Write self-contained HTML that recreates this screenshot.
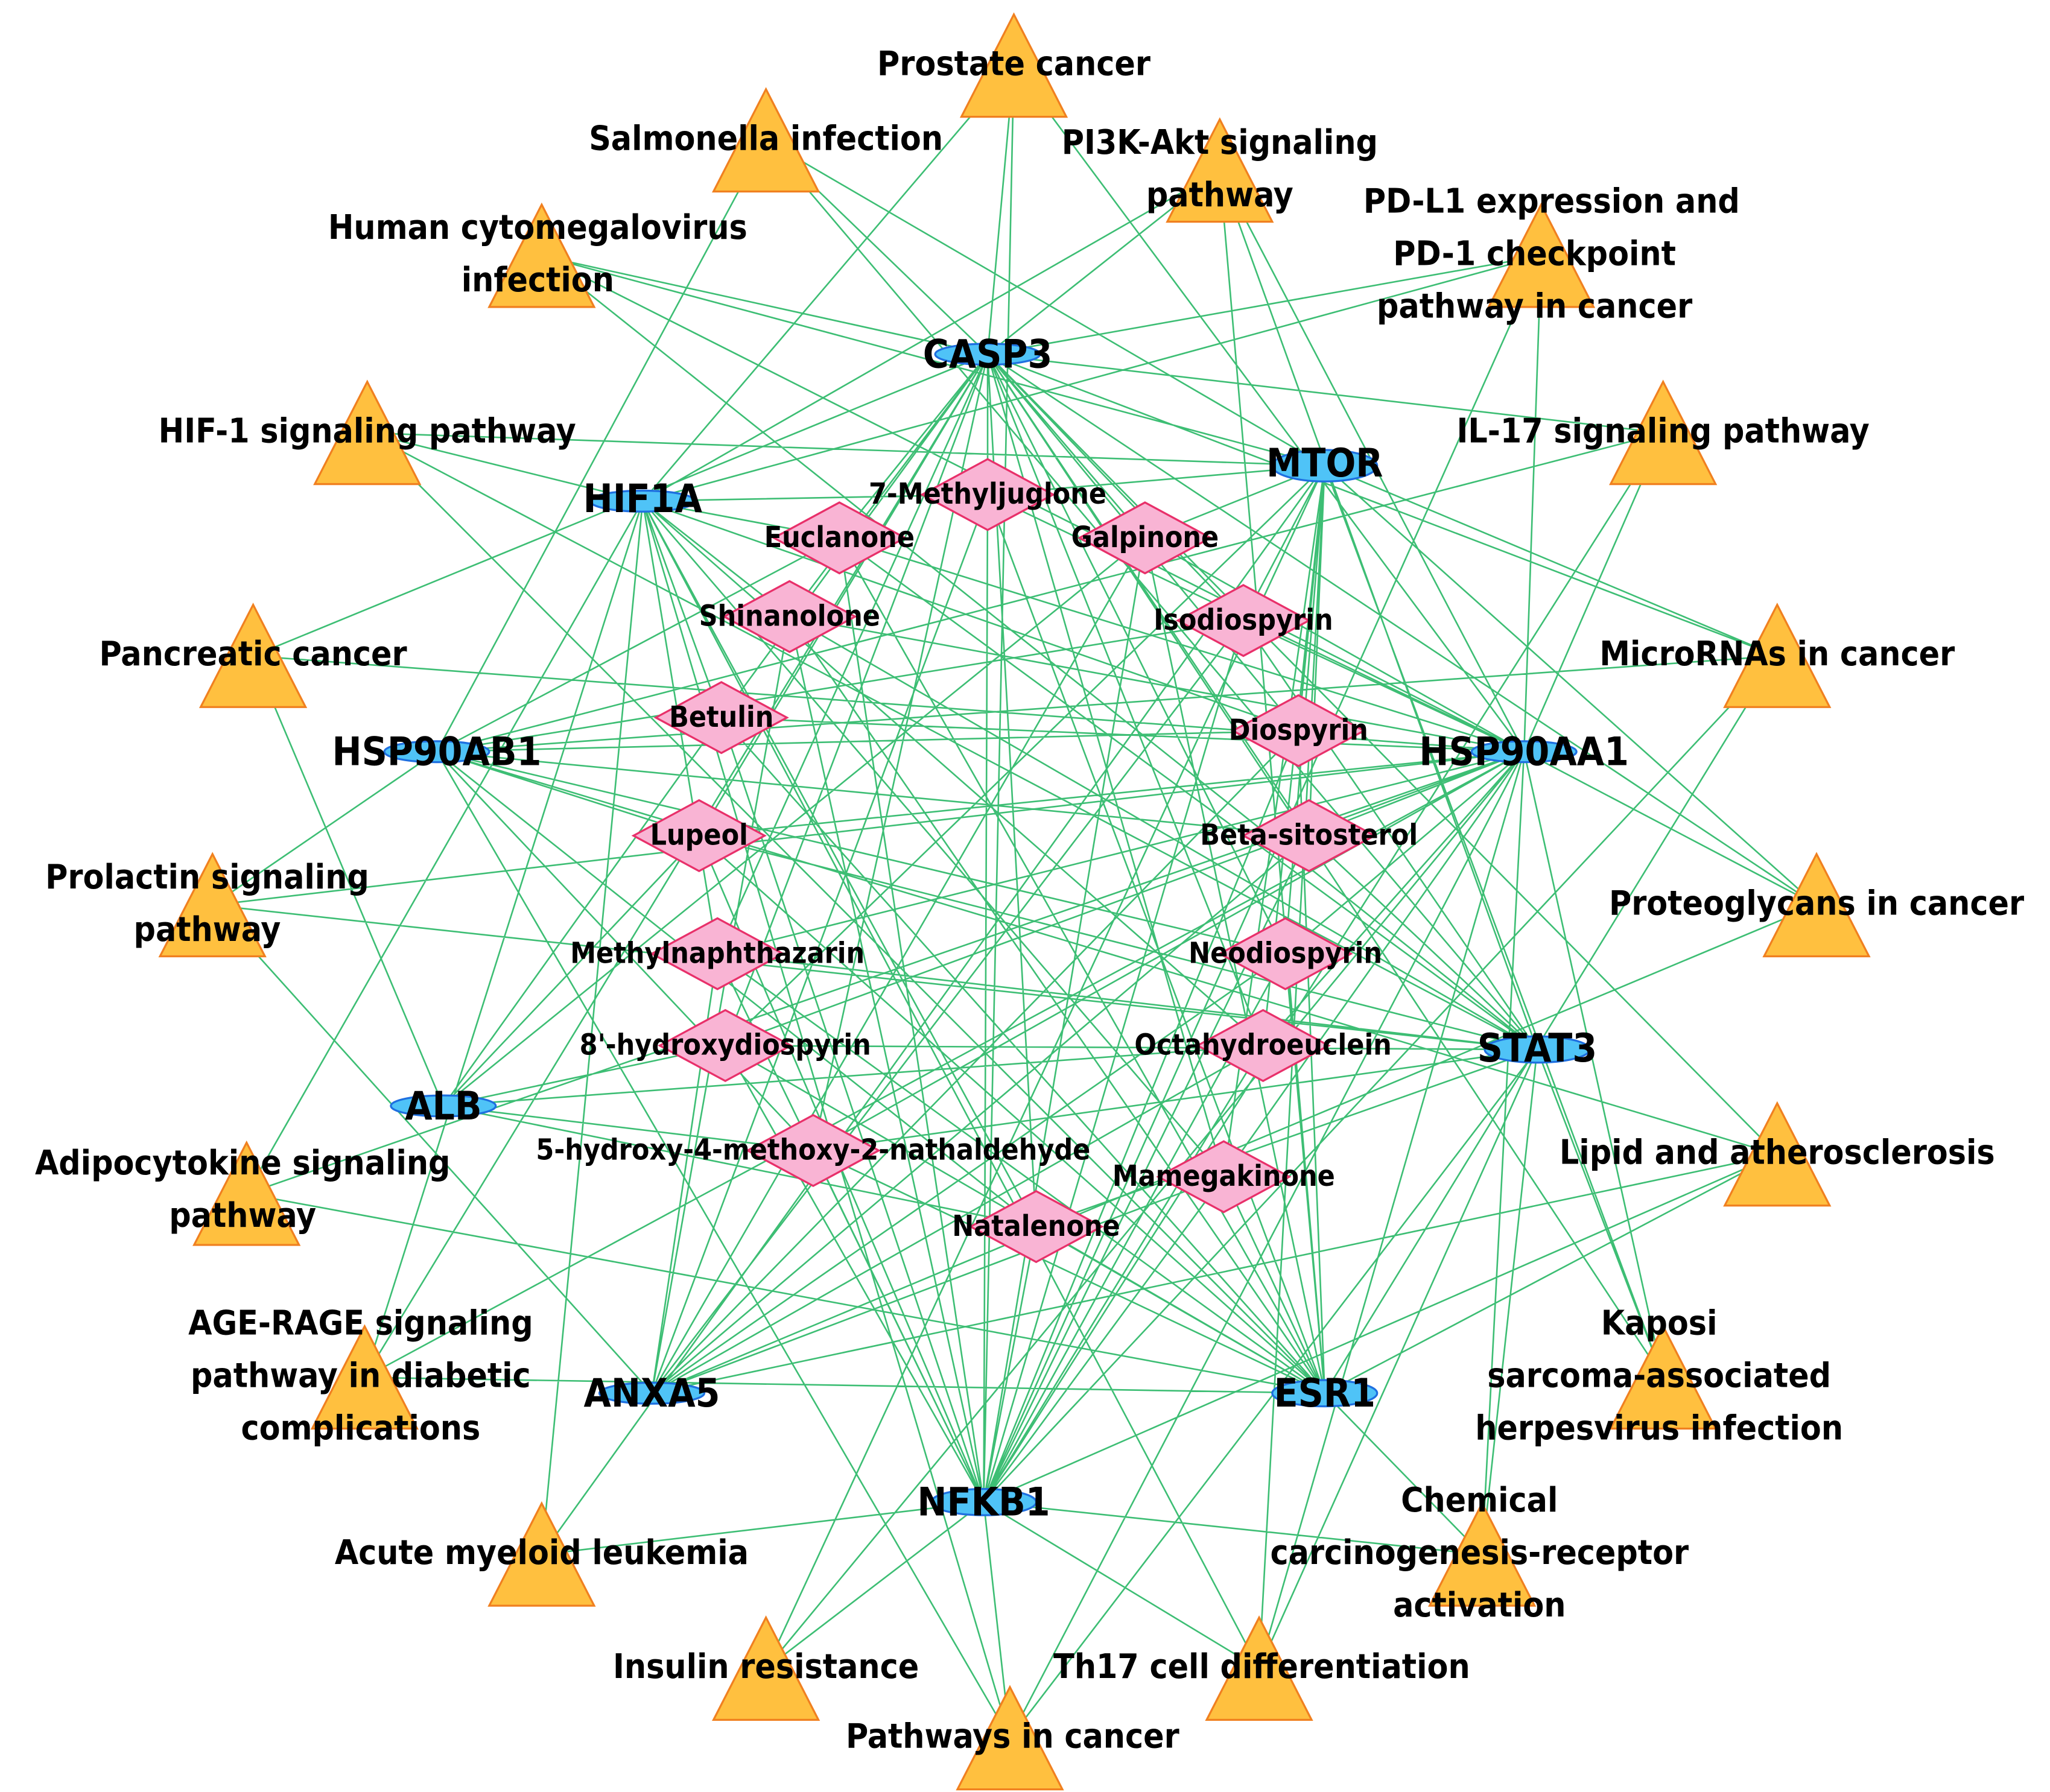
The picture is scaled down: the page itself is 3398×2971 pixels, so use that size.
<!DOCTYPE html>
<html><head><meta charset="utf-8"><style>
html,body{margin:0;padding:0;background:#fff;}
svg{display:block;}
text{font-family:"DejaVu Sans","Liberation Sans",sans-serif;font-weight:bold;font-stretch:condensed;fill:#000;text-anchor:middle;dominant-baseline:middle;}
.p{font-size:26px;}
.t{font-size:30px;}
.c{font-size:22px;}
</style></head><body>
<svg width="3398" height="2971" viewBox="0 0 1563 1366" preserveAspectRatio="none" xmlns="http://www.w3.org/2000/svg">
<g stroke="#3dbe74" stroke-width="1.2" fill="none">
<path d="
M773 50L753 270M773 50L1162 573M773 50L490 382M773 50L750 1145
M584 107L1010 355M584 107L753 270M584 107L1172 800M584 107L333 573
M930 130L753 270M930 130L1162 573M930 130L1172 800M930 130L490 382M930 130L1010 1062
M1175 195L490 382M1175 195L1162 573M1175 195L753 270M1175 195L750 1145
M413 195L1010 355M413 195L753 270M413 195L1172 800M413 195L1162 573
M280 330L1010 355M280 330L1172 800M280 330L1010 1062M280 330L490 382
M1268 330L753 270M1268 330L1162 573M1268 330L333 573M1268 330L750 1145
M193 500L753 270M193 500L1162 573M193 500L338 843
M1355 500L753 270M1355 500L1010 355M1355 500L333 573M1355 500L1010 1062M1355 500L750 1145
M162 690L1162 573M162 690L1172 800M162 690L497 1062M162 690L333 573
M1385 690L1010 355M1385 690L1162 573M1385 690L753 270M1385 690L497 1062
M188 910L490 382M188 910L1162 573M188 910L1010 1062
M1355 880L333 573M1355 880L753 270M1355 880L1010 1062M1355 880L750 1145M1355 880L497 1062
M278 1050L753 270M278 1050L1162 573M278 1050L490 382M278 1050L1010 1062
M1268 1050L1172 800M1268 1050L753 270M1268 1050L1010 355M1268 1050L1162 573
M413 1185L750 1145M413 1185L490 382M413 1185L1010 355
M1130 1185L1172 800M1130 1185L1010 1062M1130 1185L750 1145M1130 1185L1162 573
M584 1272L750 1145M584 1272L1010 355M584 1272L1162 573
M960 1272L750 1145M960 1272L1172 800M960 1272L1162 573M960 1272L1010 355M960 1272L490 382
M770 1325L750 1145M770 1325L1172 800M770 1325L333 573M770 1325L490 382M770 1325L1162 573
M753 377L753 270M753 377L1010 355M753 377L490 382M753 377L1162 573M753 377L750 1145M753 377L1010 1062M753 377L497 1062
M640 410L753 270M640 410L490 382M640 410L1162 573M640 410L1172 800M640 410L750 1145M640 410L1010 1062M640 410L333 573
M873 410L753 270M873 410L1010 355M873 410L1162 573M873 410L750 1145M873 410L1010 1062M873 410L497 1062M873 410L338 843
M602 470L753 270M602 470L490 382M602 470L1162 573M602 470L1172 800M602 470L750 1145M602 470L1010 1062M602 470L497 1062
M948 473L753 270M948 473L1010 355M948 473L333 573M948 473L1162 573M948 473L750 1145M948 473L497 1062M948 473L1172 800
M550 547L753 270M550 547L490 382M550 547L1162 573M550 547L750 1145M550 547L1010 1062M550 547L338 843
M990 557L753 270M990 557L1010 355M990 557L490 382M990 557L333 573M990 557L750 1145M990 557L497 1062M990 557L1010 1062
M533 637L753 270M533 637L1162 573M533 637L333 573M533 637L338 843M533 637L750 1145M533 637L1010 1062M533 637L1172 800
M998 637L753 270M998 637L1010 355M998 637L1162 573M998 637L333 573M998 637L750 1145M998 637L497 1062M998 637L1172 800
M547 727L753 270M547 727L490 382M547 727L1162 573M547 727L1172 800M547 727L750 1145M547 727L497 1062M547 727L1010 1062
M980 727L753 270M980 727L1010 355M980 727L333 573M980 727L1162 573M980 727L750 1145M980 727L497 1062M980 727L1010 1062
M553 797L753 270M553 797L1162 573M553 797L1172 800M553 797L338 843M553 797L750 1145M553 797L1010 1062M553 797L1010 355
M963 797L753 270M963 797L1010 355M963 797L490 382M963 797L1162 573M963 797L750 1145M963 797L497 1062M963 797L338 843
M620 877L753 270M620 877L333 573M620 877L338 843M620 877L1162 573M620 877L750 1145M620 877L1010 1062M620 877L1172 800
M933 897L753 270M933 897L1010 355M933 897L490 382M933 897L1162 573M933 897L750 1145M933 897L497 1062M933 897L1010 1062
M790 935L753 270M790 935L490 382M790 935L333 573M790 935L338 843M790 935L750 1145M790 935L1010 1062M790 935L1172 800
"/>
</g>
<g fill="#ffc03f" stroke="#f08020" stroke-width="1.5">
<polygon points="773,11 813,89 733,89"/>
<polygon points="584,68 624,146 544,146"/>
<polygon points="930,91 970,169 890,169"/>
<polygon points="1175,156 1215,234 1135,234"/>
<polygon points="413,156 453,234 373,234"/>
<polygon points="280,291 320,369 240,369"/>
<polygon points="1268,291 1308,369 1228,369"/>
<polygon points="193,461 233,539 153,539"/>
<polygon points="1355,461 1395,539 1315,539"/>
<polygon points="162,651 202,729 122,729"/>
<polygon points="1385,651 1425,729 1345,729"/>
<polygon points="188,871 228,949 148,949"/>
<polygon points="1355,841 1395,919 1315,919"/>
<polygon points="278,1011 318,1089 238,1089"/>
<polygon points="1268,1011 1308,1089 1228,1089"/>
<polygon points="413,1146 453,1224 373,1224"/>
<polygon points="1130,1146 1170,1224 1090,1224"/>
<polygon points="584,1233 624,1311 544,1311"/>
<polygon points="960,1233 1000,1311 920,1311"/>
<polygon points="770,1286 810,1364 730,1364"/>
</g>
<g fill="#f9b4d4" stroke="#e8306a" stroke-width="1.5">
<polygon points="753,350 803,377 753,404 703,377"/>
<polygon points="640,383 690,410 640,437 590,410"/>
<polygon points="873,383 923,410 873,437 823,410"/>
<polygon points="602,443 652,470 602,497 552,470"/>
<polygon points="948,446 998,473 948,500 898,473"/>
<polygon points="550,520 600,547 550,574 500,547"/>
<polygon points="990,530 1040,557 990,584 940,557"/>
<polygon points="533,610 583,637 533,664 483,637"/>
<polygon points="998,610 1048,637 998,664 948,637"/>
<polygon points="547,700 597,727 547,754 497,727"/>
<polygon points="980,700 1030,727 980,754 930,727"/>
<polygon points="553,770 603,797 553,824 503,797"/>
<polygon points="963,770 1013,797 963,824 913,797"/>
<polygon points="620,850 670,877 620,904 570,877"/>
<polygon points="933,870 983,897 933,924 883,897"/>
<polygon points="790,908 840,935 790,962 740,935"/>
</g>
<g fill="#4fc3f7" stroke="#1e6fe0" stroke-width="1.5">
<ellipse cx="753" cy="270" rx="40" ry="8"/>
<ellipse cx="1010" cy="355" rx="40" ry="12"/>
<ellipse cx="490" cy="382" rx="40" ry="8"/>
<ellipse cx="333" cy="573" rx="40" ry="8"/>
<ellipse cx="1162" cy="573" rx="40" ry="8"/>
<ellipse cx="1172" cy="800" rx="40" ry="10"/>
<ellipse cx="338" cy="843" rx="40" ry="8"/>
<ellipse cx="497" cy="1062" rx="40" ry="8"/>
<ellipse cx="1010" cy="1062" rx="40" ry="10"/>
<ellipse cx="750" cy="1145" rx="40" ry="10"/>
</g>
<g class="p">
<text x="773" y="50" class="p">Prostate cancer</text>
<text x="584" y="107" class="p">Salmonella infection</text>
<text x="930" y="110" class="p">PI3K-Akt signaling</text>
<text x="930" y="150" class="p">pathway</text>
<text x="1183" y="155" class="p">PD-L1 expression and</text>
<text x="1170" y="195" class="p">PD-1 checkpoint</text>
<text x="1170" y="235" class="p">pathway in cancer</text>
<text x="410" y="175" class="p">Human cytomegalovirus</text>
<text x="410" y="215" class="p">infection</text>
<text x="280" y="330" class="p">HIF-1 signaling pathway</text>
<text x="1268" y="330" class="p">IL-17 signaling pathway</text>
<text x="193" y="500" class="p">Pancreatic cancer</text>
<text x="1355" y="500" class="p">MicroRNAs in cancer</text>
<text x="158" y="670" class="p">Prolactin signaling</text>
<text x="158" y="710" class="p">pathway</text>
<text x="1385" y="690" class="p">Proteoglycans in cancer</text>
<text x="185" y="888" class="p">Adipocytokine signaling</text>
<text x="185" y="928" class="p">pathway</text>
<text x="1355" y="880" class="p">Lipid and atherosclerosis</text>
<text x="275" y="1010" class="p">AGE-RAGE signaling</text>
<text x="275" y="1050" class="p">pathway in diabetic</text>
<text x="275" y="1090" class="p">complications</text>
<text x="1265" y="1010" class="p">Kaposi</text>
<text x="1265" y="1050" class="p">sarcoma-associated</text>
<text x="1265" y="1090" class="p">herpesvirus infection</text>
<text x="413" y="1185" class="p">Acute myeloid leukemia</text>
<text x="1128" y="1145" class="p">Chemical</text>
<text x="1128" y="1185" class="p">carcinogenesis-receptor</text>
<text x="1128" y="1225" class="p">activation</text>
<text x="584" y="1272" class="p">Insulin resistance</text>
<text x="962" y="1272" class="p">Th17 cell differentiation</text>
<text x="772" y="1325" class="p">Pathways in cancer</text>
</g>
<g>
<text x="753" y="272" class="t">CASP3</text>
<text x="1010" y="355" class="t">MTOR</text>
<text x="490" y="382" class="t">HIF1A</text>
<text x="333" y="575" class="t">HSP90AB1</text>
<text x="1162" y="575" class="t">HSP90AA1</text>
<text x="1172" y="801" class="t">STAT3</text>
<text x="338" y="845" class="t">ALB</text>
<text x="497" y="1064" class="t">ANXA5</text>
<text x="1010" y="1064" class="t">ESR1</text>
<text x="750" y="1147" class="t">NFKB1</text>
</g>
<g>
<text x="753" y="378" class="c">7-Methyljuglone</text>
<text x="640" y="411" class="c">Euclanone</text>
<text x="873" y="411" class="c">Galpinone</text>
<text x="602" y="471" class="c">Shinanolone</text>
<text x="948" y="474" class="c">Isodiospyrin</text>
<text x="550" y="548" class="c">Betulin</text>
<text x="990" y="558" class="c">Diospyrin</text>
<text x="533" y="638" class="c">Lupeol</text>
<text x="998" y="638" class="c">Beta-sitosterol</text>
<text x="547" y="728" class="c">Methylnaphthazarin</text>
<text x="980" y="728" class="c">Neodiospyrin</text>
<text x="553" y="798" class="c">8'-hydroxydiospyrin</text>
<text x="963" y="798" class="c">Octahydroeuclein</text>
<text x="620" y="878" class="c">5-hydroxy-4-methoxy-2-nathaldehyde</text>
<text x="933" y="898" class="c">Mamegakinone</text>
<text x="790" y="936" class="c">Natalenone</text>
</g>
</svg>
</body></html>
